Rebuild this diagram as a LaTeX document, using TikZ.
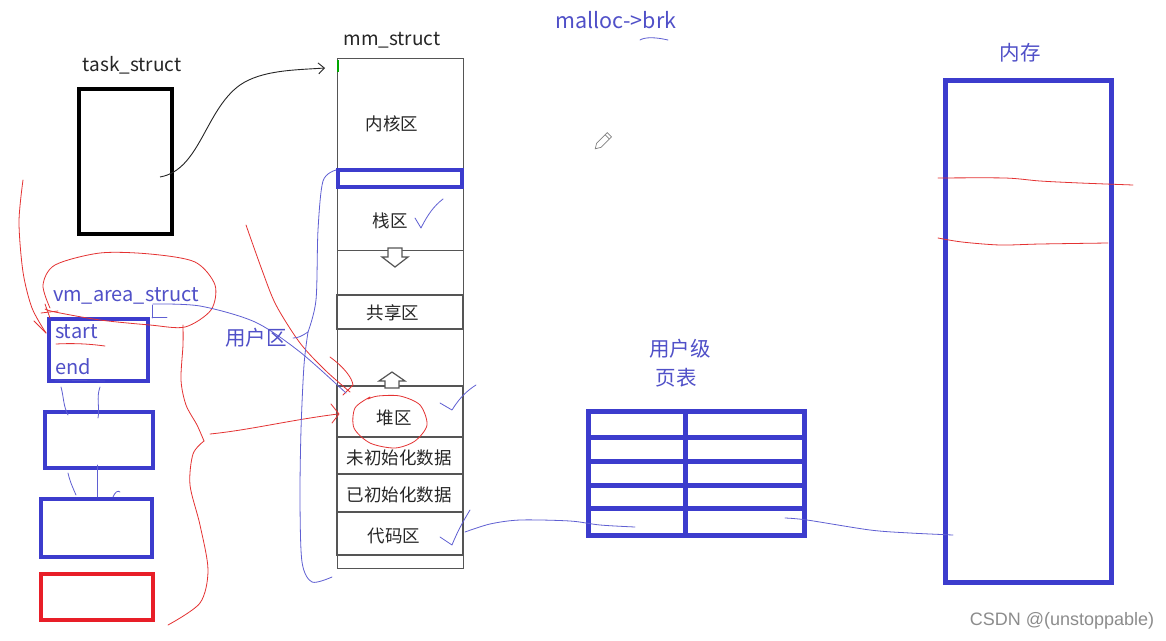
\documentclass[tikz,border=0pt]{standalone}
\usepackage{fontspec}
\setmainfont{Noto Sans CJK SC}
\newfontfamily\csdnfont{Liberation Sans}
\usetikzlibrary{arrows.meta}
\definecolor{pen}{RGB}{60,60,205}
\definecolor{ink}{RGB}{80,80,200}
\definecolor{thinblue}{RGB}{95,95,210}
\definecolor{redpen}{RGB}{228,50,50}
\definecolor{redbox}{RGB}{232,30,40}
\definecolor{gridgray}{RGB}{85,85,85}
\definecolor{wm}{RGB}{140,140,140}
\begin{document}
\begin{tikzpicture}[x=1pt,y=-1pt,
  every node/.style={outer sep=0},
  blk/.style={font=\fontsize{17.5}{17.5}\selectfont, text=black!85, inner sep=0},
  blklat/.style={font=\fontsize{19}{19}\selectfont, text=black!85, inner sep=0},
  blbl/.style={font=\fontsize{20}{20}\selectfont, text=ink, inner sep=0},
  cjkbl/.style={font=\fontsize{20.5}{20.5}\selectfont, text=ink, inner sep=0},
  cell/.style={draw=gridgray, line width=1.1pt, anchor=north west, inner sep=0},
  thickblue/.style={draw=pen, line width=4.5pt, anchor=north west, inner sep=0},
  redline/.style={draw=redpen, line width=0.8pt, line cap=round, line join=round},
  blueline/.style={draw=thinblue, line width=0.8pt, line cap=round, line join=round},
  hollow/.style={draw=gridgray, line width=1.2pt, fill=white, line join=miter},
]
\useasboundingbox[fill=white] (0,0) rectangle (1166,640);

% ---------- task_struct ----------
\node[blklat] (tasklabel) at (132,65) {task\_struct};
\node[draw=black, line width=4pt, anchor=north west, inner sep=0,
      minimum width=93, minimum height=145] (task) at (79,89) {};
\coordinate (tptr) at (160,177);

% ---------- mm_struct column ----------
\node[blklat] (mmlabel) at (392,40) {mm\_struct};
\node[cell, line width=0.9pt, minimum width=126, minimum height=510] (mm) at (337,58) {};
\draw[green!65!black, line width=2.5pt] (338,60) -- (338,72);
\node[blk] (kerntxt) at (392,124) {内核区};
\node[thickblue, line width=4pt, minimum width=124, minimum height=17] (ustop) at (338,170) {};
\node[blk] (stacktxt) at (390,221) {栈区};
\draw[gridgray, line width=0.9pt] (337,250) -- (463,250);
\node[cell, minimum width=126, minimum height=34] (share) at (337,295) {};
\node[blk] (sharetxt) at (393,313) {共享区};
\node[cell, minimum width=126, minimum height=51] (heap) at (337,386) {};
\node[blk] (heaptxt) at (394,418) {堆区};
\node[cell, minimum width=126, minimum height=37] (bss) at (337,437) {};
\node[blk] (bsstxt) at (399,458) {未初始化数据};
\node[cell, minimum width=126, minimum height=38] (data) at (337,474) {};
\node[blk] (datatxt) at (399,495) {已初始化数据};
\node[cell, minimum width=126, minimum height=43] (code) at (337,512) {};
\node[blk] (codetxt) at (394,536) {代码区};

% hollow arrows
\draw[hollow] (388,248) -- (402,248) -- (402,257) -- (408,257) -- (395,267) -- (382,257) -- (388,257) -- cycle;
\draw[hollow] (385,388) -- (399,388) -- (399,381) -- (405,381) -- (392,372) -- (379,381) -- (385,381) -- cycle;

% ---------- task -> mm arrow ----------
\coordinate (mmtip) at (325,68);
\draw[black!85, line width=0.9pt, -{Straight Barb[length=6pt,width=11pt]}]
  (tptr) .. controls (200,170) and (205,110) .. (240,85)
         .. controls (262,70) and (295,70) .. (mmtip);

% ---------- vm_area_struct ----------
\node[blbl] (vmlabel) at (126,296) {vm\_area\_struct};
\node[thickblue, minimum width=99, minimum height=62] (vm1) at (49,319) {};
\node[blbl, anchor=west] (starttxt) at (55,332) {start};
\node[blbl, anchor=west] (endtxt) at (55,367) {end};
\node[thickblue, minimum width=108, minimum height=56] (vm2) at (45,412) {};
\node[thickblue, minimum width=111, minimum height=58] (vm3) at (41,499) {};
\node[draw=redbox, line width=4.5pt, anchor=north west, inner sep=0,
      minimum width=112, minimum height=46] (vm4) at (41,574) {};

% small links between vm boxes
\draw[blueline] (61,387) .. controls (64,398) and (63,405) .. (68,415);
\draw[blueline] (100,387) .. controls (96,398) and (100,408) .. (98,418);
\draw[blueline] (68,473) .. controls (70,482) and (73,488) .. (76,495);
\draw[blueline] (97,465) -- (97,497);
\draw[blueline] (113,497) .. controls (115,492) and (118,490) .. (120,492);

% underlines
\draw[redline] (56,344) .. controls (75,343) and (90,344) .. (105,346);
\draw[blueline, draw opacity=0.6] (55,380) -- (105,381);

% red ellipse round vm_area_struct
\draw[redline] plot[smooth] coordinates {(50,308) (43,285) (55,265) (100,253) (150,254) (195,262) (215,285) (211,310) (185,327) (150,325) (100,320) (55,312) (45,309)};
\draw[redline] (45,304) -- (50,318);
\draw[redline] (41,313) -- (58,311);

% red line from top left
\draw[redline] plot[smooth] coordinates {(23,180) (19,222) (23,272) (32,308) (46,333)};
\draw[redline] (34,321) -- (46,333);

% big red brace and arrow to heap
\draw[redline] plot[smooth] coordinates {(183,325) (183,345) (181,380) (186,405) (197,425) (204,441)};
\draw[redline] plot[smooth] coordinates {(204,441) (193,454) (190,485) (200,525) (208,570) (200,603) (168,625)};
\coordinate (heapin) at (338,414);
\draw[redline] (210,434) .. controls (250,430) and (290,420) .. (heapin);
\draw[redline] (331,404) -- (339,414) -- (332,423);

% red stroke from top towards heap
\draw[redline] plot[smooth] coordinates {(246,225) (262,270) (276,305) (300,343) (325,370) (350,392)};
\draw[redline] (330,357) .. controls (345,368) and (352,378) .. (353,385) -- (343,395);

% blue curve vm_area_struct -> heap
\draw[blueline] (152,305) -- (152,318);
\draw[blueline] (152,317) -- (167,317);
\draw[blueline] plot[smooth] coordinates {(153,304) (200,306) (255,322) (300,352) (346,393)};

% user area bracket
\node[cjkbl] (usertxt) at (256,338) {用户区};
\draw[blueline] plot[smooth] coordinates {(336,170) (323,181) (318,230) (316,300) (308,332)};
\draw[blueline] (308,332) .. controls (302,336) and (298,338) .. (293,338);
\draw[blueline] plot[smooth] coordinates {(308,332) (304,365) (301,430) (300,500) (302,562) (312,582) (332,577)};

% red circle round heap
\draw[redline] plot[smooth] coordinates {(370,397) (355,408) (354,428) (370,443) (395,448) (415,441) (427,425) (420,405) (400,396) (378,396) (368,399)};

% check marks
\draw[blueline] (415,218) -- (421,228) .. controls (428,214) and (434,206) .. (443,199);
\draw[blueline] (440,403) -- (452,410) .. controls (460,397) and (468,390) .. (476,385);
\draw[blueline] (440,537) -- (452,545) .. controls (458,530) and (464,520) .. (470,510);

% ---------- malloc->brk ----------
\node[blbl, font=\fontsize{21.5}{21.5}\selectfont] (malloc) at (616,20) {malloc->brk};
\draw[blueline] (640,40) .. controls (645,37) and (655,37) .. (668,40);

% pencil cursor
\begin{scope}[shift={(603,141)}, rotate=-45]
  \draw[gray, line width=0.7pt, fill=white] (-3,-9) -- (3,-9) -- (3,6) -- (0,11) -- (-3,6) -- cycle;
  \draw[gray, line width=0.7pt] (-3,-6) -- (3,-6);
\end{scope}

% ---------- user page table ----------
\node[cjkbl] (pttxt1) at (680,349) {用户级};
\node[cjkbl] (pttxt2) at (676,378) {页表};
\node[thickblue, line width=5.5pt, minimum width=216, minimum height=124] (pt) at (588.5,411.5) {};
\foreach \yy in {437,461,485,508} \draw[pen, line width=5pt] (588,\yy) -- (805,\yy);
\draw[pen, line width=5pt] (685,411) -- (685,536);

% ---------- memory ----------
\node[cjkbl] (memtxt) at (1020,53) {内存};
\node[thickblue, line width=5pt, minimum width=166, minimum height=502] (mem) at (945.5,80.5) {};
\draw[redline] plot[smooth] coordinates {(938,178) (1005,178) (1040,181) (1080,183) (1133,185)};
\draw[redline] plot[smooth] coordinates {(938,238) (962,242) (1000,245) (1040,244) (1108,243)};

% code -> page table -> memory
\coordinate (ptin) at (635,527);
\coordinate (ptout) at (785,518);
\coordinate (memin) at (953,535);
\draw[blueline] plot[smooth] coordinates {(465,532) (490,524) (520,520) (570,521) (600,525) (ptin)};
\draw[blueline] plot[smooth] coordinates {(ptout) (807,520) (870,530) (910,533) (memin)};

% watermark
\node[font=\csdnfont\fontsize{18}{18}\selectfont, text=wm, inner sep=0] (csdn) at (1062,621) {CSDN @(unstoppable)};
\end{tikzpicture}
\end{document}
